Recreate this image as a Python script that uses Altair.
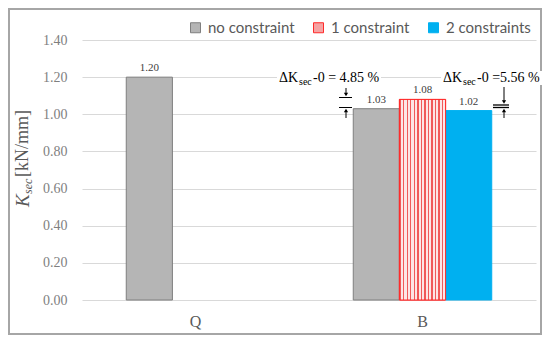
import altair as alt
import pandas as pd

# ---- data ----
categories = ["Q", "B", "B", "B"]
series = ["no constraint", "no constraint", "1 constraint", "2 constraints"]
values = [1.20, 1.03, 1.08, 1.02]
series_order = ["no constraint", "1 constraint", "2 constraints"]
category_order = ["Q", "B"]
y_ticks = [0.0, 0.2, 0.4, 0.6, 0.8, 1.0, 1.2, 1.4]
delta_labels = ["-0 = 4.85 %", "-0 =5.56 %"]

df = pd.DataFrame({"category": categories, "series": series, "value": values})
one = pd.DataFrame({"k": [0]})

fills = ["#b5b5b5", "#f5a3a3", "#00b0f0"]
strokes = ["#7f7f7f", "#ff2a2a", "#00b0f0"]
SERIF = "Liberation Serif"

x_enc = alt.X(
    "category:N", sort=category_order,
    scale=alt.Scale(paddingInner=0.39, paddingOuter=0.195),
    axis=alt.Axis(title=None, labelAngle=0, domain=False, ticks=False,
                  labelFont=SERIF, labelFontSize=16, labelColor="#595959",
                  labelPadding=13, grid=False),
)
xo_enc = alt.XOffset("series:N", sort=series_order,
                     scale=alt.Scale(domain=series_order, paddingInner=0, paddingOuter=0))
y_enc = alt.Y(
    "value:Q",
    scale=alt.Scale(domain=[0, 1.4], nice=False, zero=True),
    axis=alt.Axis(title=None, values=y_ticks, format=".2f", domain=False, ticks=False,
                  grid=True, gridColor="#d9d9d9", gridWidth=1,
                  labelFont=SERIF, labelFontSize=14, labelColor="#7f7f7f", labelPadding=15),
)

leg = alt.Legend(title=None, orient="none", legendX=106, legendY=-20, direction="horizontal",
                 symbolType="square", symbolSize=100, symbolStrokeWidth=1,
                 labelFont="Lato", labelFontSize=15, labelColor="#595959",
                 labelOffset=5, columnPadding=16, padding=0)

bars = alt.Chart(df).mark_bar(strokeWidth=1).encode(
    x=x_enc, xOffset=xo_enc, y=y_enc,
    color=alt.Color("series:N", sort=series_order,
                    scale=alt.Scale(domain=series_order, range=fills), legend=leg),
    stroke=alt.Stroke("series:N", sort=series_order,
                      scale=alt.Scale(domain=series_order, range=strokes), legend=leg),
)

# striped fill for "1 constraint"
n = 13
stops = []
for i in range(n):
    a = i / n
    b = (i + 0.38) / n
    c = (i + 1) / n
    stops += [alt.GradientStop(color="#f05a5a", offset=a),
              alt.GradientStop(color="#f05a5a", offset=b),
              alt.GradientStop(color="#fde6e6", offset=b),
              alt.GradientStop(color="#fde6e6", offset=c)]
stripes = alt.LinearGradient(gradient="linear", stops=stops, x1=0, x2=1, y1=0, y2=0)

red_overlay = alt.Chart(df).transform_filter(
    alt.datum.series == "1 constraint"
).mark_bar(fill=stripes, stroke="#ff2a2a", strokeWidth=1).encode(
    x=x_enc, xOffset=xo_enc, y=y_enc
)

labels = alt.Chart(df).mark_text(
    baseline="bottom", dy=-4, font=SERIF, fontSize=11, color="#404040"
).encode(x=x_enc, xOffset=xo_enc, y=y_enc, text=alt.Text("value:Q", format=".2f"))


def txt(s, x, y, size, italic=False, angle=0, color="black", align="left"):
    return alt.Chart(one).mark_text(
        text=s, align=align, baseline="middle", font=SERIF, fontSize=size,
        fontStyle="italic" if italic else "normal", angle=angle, color=color
    ).encode(x=alt.value(x), y=alt.value(y))


def seg(x1, y1, x2, y2, w=1):
    return alt.Chart(one).mark_rule(color="black", strokeWidth=w).encode(
        x=alt.value(x1), x2=alt.value(x2), y=alt.value(y1), y2=alt.value(y2))


def tri(x, y, shape):
    return alt.Chart(one).mark_point(shape=shape, filled=True, size=18, color="black",
                                     opacity=1).encode(x=alt.value(x), y=alt.value(y))


def box(x1, y1, x2, y2):
    return alt.Chart(one).mark_rect(fill="white").encode(
        x=alt.value(x1), x2=alt.value(x2), y=alt.value(y1), y2=alt.value(y2))


frame = alt.Chart(one).mark_rect(fill="white", fillOpacity=0, stroke="#a6a6a6",
                                 strokeWidth=2).encode(
    x=alt.value(-73), x2=alt.value(459), y=alt.value(-31), y2=alt.value(294))

annot = [
    box(195, 31, 299, 45),
    txt("ΔK", 197, 38, 14),
    txt("sec", 217, 42, 10),
    txt(delta_labels[0], 231, 38, 14),
    box(359, 31, 460, 45),
    txt("ΔK", 361, 38, 14),
    txt("sec", 381, 42, 10),
    txt(delta_labels[1], 395, 38, 14),
    # left dimension arrows
    seg(264, 48, 264, 55), tri(264, 54.5, "triangle-down"),
    seg(257, 57.5, 270, 57.5), seg(257, 67.5, 270, 67.5),
    seg(264, 70, 264, 78), tri(264, 70.5, "triangle-up"),
    # right dimension arrows
    seg(422, 47, 422, 62), tri(422, 62, "triangle-down"),
    seg(411, 65, 427, 65, 1.3), seg(411, 67.5, 427, 67.5, 1.3),
    seg(422, 70, 422, 78), tri(422, 70.5, "triangle-up"),
    # y axis title (rotated, with subscript)
    txt("K", -59.5, 167, 19, italic=True, angle=270, color="#595959"),
    txt("sec", -54, 154, 12, italic=True, angle=270, color="#595959"),
    txt("[kN/mm]", -59.5, 137, 18, angle=270, color="#595959"),
]

chart = alt.layer(frame, bars, red_overlay, labels, *annot).properties(
    width=454, height=260,
    autosize=alt.AutoSizeParams(type="none"),
    padding={"left": 74, "top": 32, "right": 6, "bottom": 35},
).configure_view(stroke=None)

chart.save("out.html", embed_options={"renderer": "svg", "actions": False})
